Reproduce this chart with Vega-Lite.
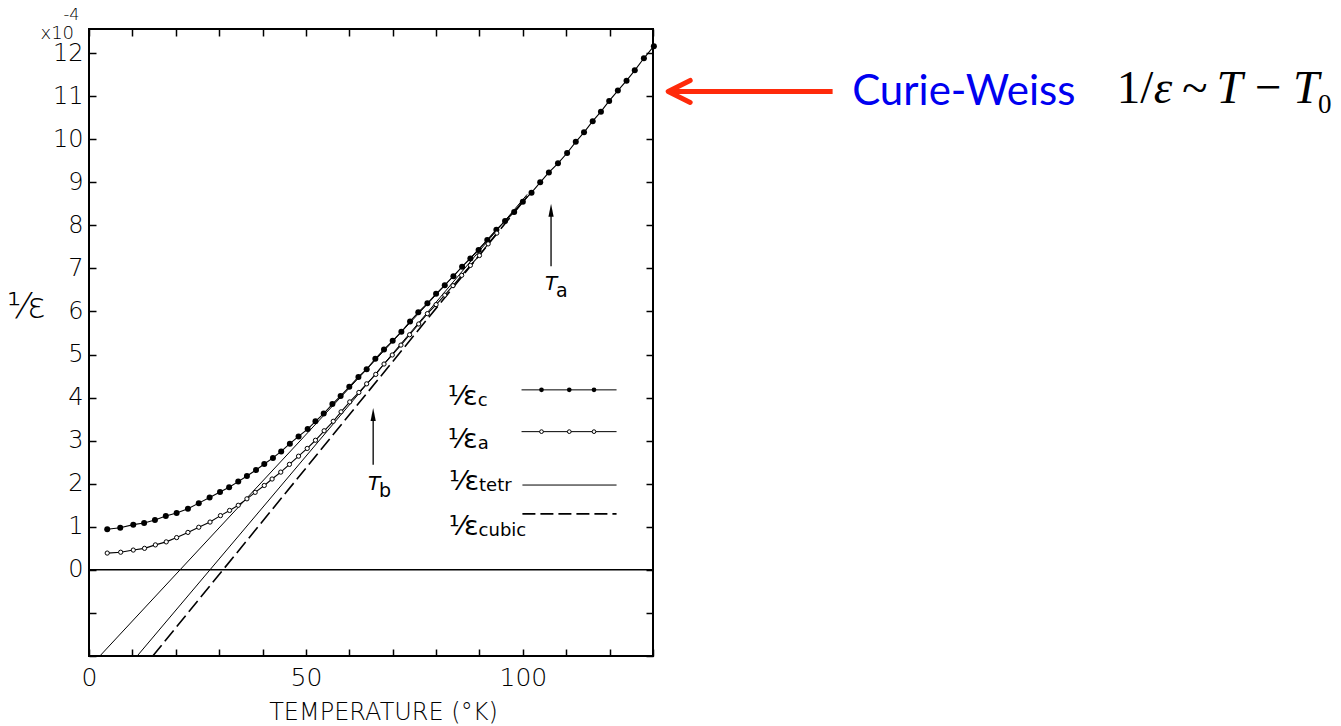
{
  "$schema": "https://vega.github.io/schema/vega-lite/v6.json",
  "width": 564,
  "height": 627,
  "autosize": {"type": "none"},
  "padding": {"left": 89, "top": 29, "right": 688, "bottom": 70},
  "background": "white",
  "datasets": {
    "c": [
      {"T": 4.2, "v": 0.945}, {"T": 7.2, "v": 0.98}, {"T": 10.2, "v": 1.05}, {"T": 12.7, "v": 1.09},
      {"T": 15.2, "v": 1.16}, {"T": 17.7, "v": 1.25}, {"T": 20.2, "v": 1.32}, {"T": 22.8, "v": 1.42},
      {"T": 25.3, "v": 1.55}, {"T": 27.8, "v": 1.68}, {"T": 30.2, "v": 1.81}, {"T": 32.3, "v": 1.92},
      {"T": 34.4, "v": 2.05}, {"T": 36.4, "v": 2.18}, {"T": 38.5, "v": 2.32}, {"T": 40.4, "v": 2.46},
      {"T": 42.4, "v": 2.6}, {"T": 44.3, "v": 2.75}, {"T": 46.3, "v": 2.93}, {"T": 48.3, "v": 3.1},
      {"T": 50.4, "v": 3.27}, {"T": 52.2, "v": 3.45}, {"T": 54.1, "v": 3.63}, {"T": 56.1, "v": 3.85},
      {"T": 58.0, "v": 4.04}, {"T": 60.0, "v": 4.25}, {"T": 62.1, "v": 4.48}, {"T": 64.0, "v": 4.66},
      {"T": 66.0, "v": 4.9}, {"T": 68.0, "v": 5.12}, {"T": 70.0, "v": 5.32}, {"T": 72.0, "v": 5.53},
      {"T": 74.0, "v": 5.77}, {"T": 75.9, "v": 5.98}, {"T": 78.0, "v": 6.19}, {"T": 80.0, "v": 6.41},
      {"T": 82.0, "v": 6.61}, {"T": 84.0, "v": 6.82}, {"T": 86.0, "v": 7.04}, {"T": 87.9, "v": 7.23},
      {"T": 89.8, "v": 7.43}, {"T": 91.8, "v": 7.66}, {"T": 93.9, "v": 7.9}, {"T": 95.9, "v": 8.1},
      {"T": 98.0, "v": 8.31}, {"T": 100.0, "v": 8.55}, {"T": 102.0, "v": 8.76}, {"T": 104.0, "v": 9.0},
      {"T": 106.0, "v": 9.23}, {"T": 108.1, "v": 9.44}, {"T": 110.2, "v": 9.68}, {"T": 112.2, "v": 9.94},
      {"T": 114.1, "v": 10.16}, {"T": 116.1, "v": 10.42}, {"T": 118.0, "v": 10.64}, {"T": 119.9, "v": 10.89},
      {"T": 121.9, "v": 11.13}, {"T": 123.9, "v": 11.36}, {"T": 125.8, "v": 11.6}, {"T": 127.9, "v": 11.88},
      {"T": 130.2, "v": 12.16}
    ],
    "a": [
      {"T": 4.2, "v": 0.39}, {"T": 7.3, "v": 0.41}, {"T": 10.2, "v": 0.46}, {"T": 12.8, "v": 0.5},
      {"T": 15.3, "v": 0.58}, {"T": 17.8, "v": 0.65}, {"T": 20.2, "v": 0.75}, {"T": 22.8, "v": 0.87},
      {"T": 25.3, "v": 0.99}, {"T": 27.9, "v": 1.11}, {"T": 30.3, "v": 1.26}, {"T": 32.4, "v": 1.38},
      {"T": 34.4, "v": 1.5}, {"T": 36.4, "v": 1.65}, {"T": 38.3, "v": 1.8}, {"T": 40.4, "v": 1.96},
      {"T": 42.2, "v": 2.11}, {"T": 44.2, "v": 2.27}, {"T": 46.2, "v": 2.45}, {"T": 48.3, "v": 2.64},
      {"T": 50.3, "v": 2.82}, {"T": 52.2, "v": 3.01}, {"T": 54.2, "v": 3.23}, {"T": 56.3, "v": 3.45},
      {"T": 58.1, "v": 3.67}, {"T": 60.1, "v": 3.9}, {"T": 62.2, "v": 4.12}, {"T": 64.0, "v": 4.32},
      {"T": 66.1, "v": 4.54}, {"T": 68.0, "v": 4.78}, {"T": 69.9, "v": 4.99}, {"T": 71.9, "v": 5.22},
      {"T": 73.9, "v": 5.46}, {"T": 76.0, "v": 5.71}, {"T": 78.0, "v": 5.95}, {"T": 80.0, "v": 6.16},
      {"T": 82.0, "v": 6.38}, {"T": 83.9, "v": 6.6}, {"T": 85.9, "v": 6.84}, {"T": 87.9, "v": 7.07},
      {"T": 90.0, "v": 7.3}, {"T": 92.0, "v": 7.57}, {"T": 94.0, "v": 7.82}
    ],
    "zero": [{"T": 0, "v": 0}, {"T": 130, "v": 0}],
    "solid": [
      {"s": "t1", "T": 2.5, "v": -2}, {"s": "t1", "T": 102, "v": 8.77},
      {"s": "t2", "T": 11.1, "v": -2}, {"s": "t2", "T": 101, "v": 8.72}
    ],
    "dash": [{"T": 14.7, "v": -2}, {"T": 101, "v": 8.67}],
    "legline": [
      {"T": 99.7, "T2": 121.6, "v": 4.18},
      {"T": 99.7, "T2": 121.6, "v": 3.21},
      {"T": 99.9, "T2": 121.6, "v": 1.97}
    ],
    "legdash": [{"T": 99.9, "T2": 121.6, "v": 1.3}],
    "legc": [{"T": 104.3, "v": 4.18}, {"T": 110.7, "v": 4.18}, {"T": 116.4, "v": 4.18}],
    "lega": [{"T": 104.3, "v": 3.21}, {"T": 110.7, "v": 3.21}, {"T": 116.4, "v": 3.21}],
    "legtext": [
      {"T": 89.6, "v": 3.83, "sym": "⅟ε", "sub": "c"},
      {"T": 89.6, "v": 2.83, "sym": "⅟ε", "sub": "a"},
      {"T": 89.9, "v": 1.86, "sym": "⅟ε", "sub": "tetr"},
      {"T": 89.8, "v": 0.81, "sym": "⅟ε", "sub": "cubic"}
    ],
    "shaft": [{"T": 65.5, "v": 2.44, "v2": 3.6}, {"T": 106.5, "v": 7.05, "v2": 8.35}],
    "tip": [{"T": 65.5, "v": 3.76}, {"T": 106.5, "v": 8.5}],
    "tlabel": [{"T": 64.3, "v": 1.86, "main": "T", "sub": "b"}, {"T": 105.1, "v": 6.5, "main": "T", "sub": "a"}],
    "cwshaft": [{"T": 134.4, "T2": 171.4, "v": 11.11}],
    "cwtip": [{"T": 133.5, "v": 11.11}],
    "cwtext": [{"T": 175.9, "v": 10.8, "label": "Curie-Weiss"}],
    "f1": [{"T": 236.9, "v": 10.85, "label": "1/"}],
    "f2": [{"T": 245.4, "v": 10.85, "label": "ε\u2009~\u2009T\u2009−\u2009T"}],
    "f3": [{"T": 283.3, "v": 10.62, "label": "0"}]
  },
  "layer": [
    {
      "encoding": {
        "x": {
          "field": "T", "type": "quantitative",
          "scale": {"domain": [0, 130], "nice": false, "zero": false},
          "axis": {
            "orient": "bottom",
            "values": [0, 10, 20, 30, 40, 50, 60, 70, 80, 90, 100, 110, 120, 130],
            "labelExpr": "datum.value % 50 === 0 ? datum.label : ''",
            "labelFontSize": 25, "labelPadding": 16,
            "title": "TEMPERATURE (°K)", "titleFontSize": 24,
            "titleX": 294, "titleY": 63, "titleAlign": "center", "titleBaseline": "alphabetic"
          }
        },
        "y": {
          "field": "v", "type": "quantitative",
          "scale": {"domain": [-2, 12.56], "nice": false, "zero": false},
          "axis": {
            "orient": "left",
            "values": [-2, -1, 0, 1, 2, 3, 4, 5, 6, 7, 8, 9, 10, 11, 12],
            "labelExpr": "datum.value >= 0 ? datum.label : ''",
            "labelFontSize": 24, "labelPadding": 13,
            "title": "⅟ε", "titleAngle": 0, "titleX": -63, "titleY": 277,
            "titleAlign": "center", "titleBaseline": "middle", "titleFontSize": 35
          }
        }
      },
      "layer": [
        {"data": {"name": "zero"}, "mark": {"type": "line", "color": "black", "strokeWidth": 1.5}},
        {"data": {"name": "solid"}, "mark": {"type": "line", "color": "black", "strokeWidth": 1}, "encoding": {"detail": {"field": "s"}}},
        {"data": {"name": "dash"}, "mark": {"type": "line", "color": "black", "strokeWidth": 1.6, "strokeDash": [14, 5]}},
        {"data": {"name": "c"}, "mark": {"type": "line", "color": "black", "strokeWidth": 1.1}},
        {"data": {"name": "c"}, "mark": {"type": "point", "filled": true, "color": "black", "size": 36, "opacity": 1, "clip": false}},
        {"data": {"name": "a"}, "mark": {"type": "line", "color": "black", "strokeWidth": 1.1}},
        {"data": {"name": "a"}, "mark": {"type": "point", "filled": true, "fill": "white", "stroke": "black", "strokeWidth": 1, "size": 18, "opacity": 1}},
        {"data": {"name": "legline"}, "mark": {"type": "rule", "color": "black", "strokeWidth": 1}, "encoding": {"x2": {"field": "T2"}}},
        {"data": {"name": "legdash"}, "mark": {"type": "rule", "color": "black", "strokeWidth": 1.6, "strokeDash": [13, 5]}, "encoding": {"x2": {"field": "T2"}}},
        {"data": {"name": "legc"}, "mark": {"type": "point", "filled": true, "color": "black", "size": 22, "opacity": 1}},
        {"data": {"name": "lega"}, "mark": {"type": "point", "filled": true, "fill": "white", "stroke": "black", "strokeWidth": 1, "size": 14, "opacity": 1}},
        {"data": {"name": "legtext"}, "mark": {"type": "text", "align": "right", "baseline": "alphabetic", "font": "DejaVu Sans", "fontSize": 27, "color": "black"}, "encoding": {"text": {"field": "sym"}}},
        {"data": {"name": "legtext"}, "mark": {"type": "text", "align": "left", "baseline": "alphabetic", "font": "DejaVu Sans", "fontSize": 18, "color": "black", "dx": 0, "dy": 1}, "encoding": {"text": {"field": "sub"}}},
        {"data": {"name": "shaft"}, "mark": {"type": "rule", "color": "black", "strokeWidth": 1.3}, "encoding": {"y2": {"field": "v2"}}},
        {"data": {"name": "tip"}, "mark": {"type": "point", "shape": "M0,0L-0.4,2L0.4,2Z", "filled": true, "color": "black", "size": 169, "opacity": 1}},
        {"data": {"name": "tlabel"}, "mark": {"type": "text", "align": "left", "baseline": "alphabetic", "font": "DejaVu Sans", "fontSize": 20, "fontStyle": "italic", "color": "black"}, "encoding": {"text": {"field": "main"}}},
        {"data": {"name": "tlabel"}, "mark": {"type": "text", "align": "left", "baseline": "alphabetic", "font": "DejaVu Sans", "fontSize": 19, "color": "black", "dx": 11, "dy": 7}, "encoding": {"text": {"field": "sub"}}},
        {"data": {"name": "cwshaft"}, "mark": {"type": "rule", "color": "#ff2a0a", "strokeWidth": 5, "clip": false}, "encoding": {"x2": {"field": "T2"}}},
        {"data": {"name": "cwtip"}, "mark": {"type": "point", "shape": "M2,-1L0,0L2,1", "filled": false, "color": "#ff2a0a", "strokeWidth": 5, "strokeCap": "round", "strokeJoin": "round", "size": 484, "opacity": 1, "clip": false}},
        {"data": {"name": "cwtext"}, "mark": {"type": "text", "align": "left", "baseline": "alphabetic", "font": "Lato", "fontSize": 42, "color": "#0000f0", "clip": false}, "encoding": {"text": {"field": "label"}}},
        {"data": {"name": "f1"}, "mark": {"type": "text", "align": "left", "baseline": "alphabetic", "font": "Liberation Serif", "fontSize": 47, "color": "black", "clip": false}, "encoding": {"text": {"field": "label"}}},
        {"data": {"name": "f2"}, "mark": {"type": "text", "align": "left", "baseline": "alphabetic", "font": "Liberation Serif", "fontSize": 47, "fontStyle": "italic", "color": "black", "clip": false}, "encoding": {"text": {"field": "label"}}},
        {"data": {"name": "f3"}, "mark": {"type": "text", "align": "left", "baseline": "alphabetic", "font": "Liberation Serif", "fontSize": 27, "color": "black", "clip": false}, "encoding": {"text": {"field": "label"}}}
      ]
    },
    {
      "data": {"name": "zero"},
      "mark": {"type": "point", "opacity": 0},
      "encoding": {
        "x": {
          "field": "T", "type": "quantitative",
          "axis": {
            "orient": "top",
            "values": [0, 10, 20, 30, 40, 50, 60, 70, 80, 90, 100, 110, 120, 130],
            "labels": false,
            "title": "x10", "titleX": -49, "titleY": 9, "titleAlign": "left", "titleBaseline": "alphabetic", "titleFontSize": 18
          }
        },
        "y": {
          "field": "v", "type": "quantitative",
          "axis": {
            "orient": "right",
            "values": [-2, -1, 0, 1, 2, 3, 4, 5, 6, 7, 8, 9, 10, 11, 12],
            "labels": false,
            "title": "-4", "titleAngle": 0, "titleX": -590, "titleY": -10, "titleAlign": "left", "titleBaseline": "alphabetic", "titleFontSize": 16
          }
        }
      }
    }
  ],
  "resolve": {"axis": {"x": "independent", "y": "independent"}},
  "config": {
    "view": {"stroke": "black", "strokeWidth": 2},
    "axis": {
      "domain": false, "grid": false,
      "ticks": true, "tickColor": "black", "tickWidth": 1.5, "tickSize": -7,
      "labelColor": "black", "titleColor": "black",
      "labelFont": "DejaVu Sans", "titleFont": "DejaVu Sans",
      "labelFontWeight": 200, "titleFontWeight": 200,
      "labelFlush": false, "labelOverlap": false
    }
  }
}
